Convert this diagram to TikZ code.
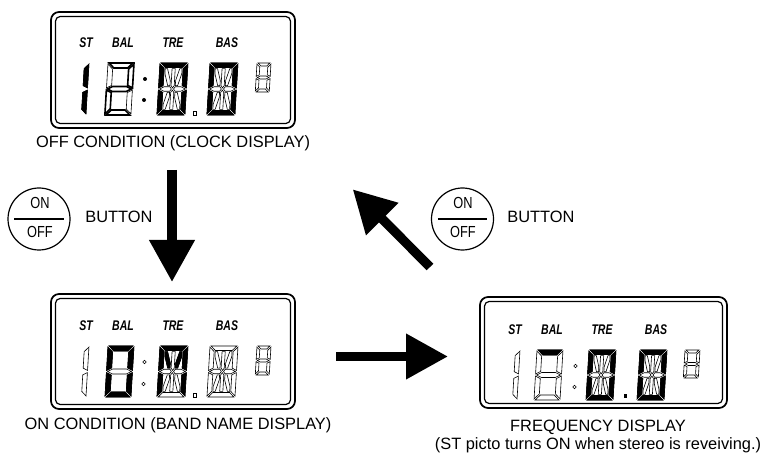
\documentclass[tikz,border=0pt]{standalone}
\usepackage{graphicx}
\usepackage{fontspec}
\setmainfont{Liberation Sans}
\usetikzlibrary{arrows.meta,calc}

\tikzset{
  unlit/.style={draw=black, fill=white, line width=0.45pt},
  lit/.style={draw=black, fill=black, line width=0.45pt},
  boldlit/.style={draw=black, fill=white, line width=1.2pt},
  frameout/.style={draw=black, line width=1.3pt, rounded corners=6pt},
  framein/.style={draw=black, line width=0.9pt, rounded corners=3.5pt},
  bigarrow/.style={line width=7pt, -{Triangle[length=31.5pt, width=32.5pt]}},
  caption/.style={font=\fontsize{12.3}{13.5}\selectfont, inner sep=0pt, align=center},
  lcdlabel/.style={font=\fontsize{10.5}{12}\selectfont\bfseries\itshape, inner sep=0pt},
  btn/.style={circle, draw=black, line width=0.9pt, minimum size=46.5pt, inner sep=0pt},
  btntext/.style={font=\fontsize{12}{13}\selectfont, inner sep=0pt},
}

% ---------- segment outlines (origin top-left, y downwards) ----------
\def\SGz{(0,0)}
\def\SGa{(\dD,0) -- ({\dW-\dD},0) -- ({\dW-\dT-\dD},\dT) -- ({\dT+\dD},\dT) -- cycle}
\def\SGb{(\dW,\dD) -- (\dW,{\dM-\dD}) -- ({\dW-\dT},{\dM-\dT/2-\dD}) -- ({\dW-\dT},{\dT+\dD}) -- cycle}
\def\SGc{(\dW,{\dM+\dD}) -- (\dW,{\dH-\dD}) -- ({\dW-\dT},{\dH-\dT-\dD}) -- ({\dW-\dT},{\dM+\dT/2+\dD}) -- cycle}
\def\SGd{(\dD,\dH) -- ({\dW-\dD},\dH) -- ({\dW-\dT-\dD},{\dH-\dT}) -- ({\dT+\dD},{\dH-\dT}) -- cycle}
\def\SGe{(0,{\dM+\dD}) -- (0,{\dH-\dD}) -- (\dT,{\dH-\dT-\dD}) -- (\dT,{\dM+\dT/2+\dD}) -- cycle}
\def\SGf{(0,\dD) -- (0,{\dM-\dD}) -- (\dT,{\dM-\dT/2-\dD}) -- (\dT,{\dT+\dD}) -- cycle}
\def\SGg{(\dD,\dM) -- ({\dT+\dD},{\dM-\dT/2}) -- ({\dW-\dT-\dD},{\dM-\dT/2}) -- ({\dW-\dD},\dM) -- ({\dW-\dT-\dD},{\dM+\dT/2}) -- ({\dT+\dD},{\dM+\dT/2}) -- cycle}
\def\SGp{(\dD,\dM) -- ({\dT+\dD},{\dM-\dT/2}) -- ({\dC-\dU/2-\dD},{\dM-\dT/2}) -- ({\dC-\dD},\dM) -- ({\dC-\dU/2-\dD},{\dM+\dT/2}) -- ({\dT+\dD},{\dM+\dT/2}) -- cycle}
\def\SGq{({\dW-\dD},\dM) -- ({\dW-\dT-\dD},{\dM-\dT/2}) -- ({\dC+\dU/2+\dD},{\dM-\dT/2}) -- ({\dC+\dD},\dM) -- ({\dC+\dU/2+\dD},{\dM+\dT/2}) -- ({\dW-\dT-\dD},{\dM+\dT/2}) -- cycle}
\def\SGi{({\dC-\dU/2},{\dT+\dD}) -- ({\dC+\dU/2},{\dT+\dD}) -- ({\dC+\dU/2},{\dM-\dT/2-\dD}) -- (\dC,{\dM-\dD}) -- ({\dC-\dU/2},{\dM-\dT/2-\dD}) -- cycle}
\def\SGl{({\dC-\dU/2},{\dH-\dT-\dD}) -- ({\dC+\dU/2},{\dH-\dT-\dD}) -- ({\dC+\dU/2},{\dM+\dT/2+\dD}) -- (\dC,{\dM+\dD}) -- ({\dC-\dU/2},{\dM+\dT/2+\dD}) -- cycle}
\def\SGh{(\dXa,\dYa) -- ({\dXa+\dOx},\dYa) -- (\dXb,{\dYb-\dOy}) -- (\dXb,\dYb) -- ({\dXb-\dOx},\dYb) -- (\dXa,{\dYa+\dOy}) -- cycle}
\def\SGj{(\dXc,\dYa) -- ({\dXc-\dOx},\dYa) -- (\dXd,{\dYb-\dOy}) -- (\dXd,\dYb) -- ({\dXd+\dOx},\dYb) -- (\dXc,{\dYa+\dOy}) -- cycle}
\def\SGk{(\dXa,\dYc) -- ({\dXa+\dOx},\dYc) -- (\dXb,{\dYd+\dOy}) -- (\dXb,\dYd) -- ({\dXb-\dOx},\dYd) -- (\dXa,{\dYc-\dOy}) -- cycle}
\def\SGn{(\dXc,\dYc) -- ({\dXc-\dOx},\dYc) -- (\dXd,{\dYd+\dOy}) -- (\dXd,\dYd) -- ({\dXd+\dOx},\dYd) -- (\dXc,{\dYc-\dOy}) -- cycle}

\newcommand\dsetup[4]{%
  \def\dW{#1}\def\dH{#2}\def\dT{#3}\def\dD{#4}%
  \pgfmathsetmacro\dM{#2/2}%
  \pgfmathsetmacro\dC{#1/2}%
  \pgfmathsetmacro\dU{#3*0.7}%
  \pgfmathsetmacro\dXa{#3+#4}%
  \pgfmathsetmacro\dXb{\dC-\dU/2-#4}%
  \pgfmathsetmacro\dXc{#1-#3-#4}%
  \pgfmathsetmacro\dXd{\dC+\dU/2+#4}%
  \pgfmathsetmacro\dYa{#3+#4}%
  \pgfmathsetmacro\dYb{\dM-#3/2-#4}%
  \pgfmathsetmacro\dYc{#2-#3-#4}%
  \pgfmathsetmacro\dYd{\dM+#3/2+#4}%
  \pgfmathsetmacro\dOx{0.4*(\dXb-\dXa)}%
  \pgfmathsetmacro\dOy{0.3*(\dYb-\dYa)}%
}
% #1 x, #2 y, #3 w, #4 h, #5 thickness, #6 all segments, #7 lit segments, #8 lit style
\newcommand\segdigit[8]{%
  \begin{scope}[shift={(#1,#2)}, xslant=0.06]
    \dsetup{#3}{#4}{#5}{1.1}%
    \edef\segall{#6}\edef\seglit{#7}%
    \foreach \s in \segall {\edef\cur{\noexpand\draw[unlit] \expandafter\noexpand\csname SG\s\endcsname;}\cur}%
    \foreach \s in \seglit {\edef\cur{\noexpand\draw[#8] \expandafter\noexpand\csname SG\s\endcsname;}\cur}%
  \end{scope}}
\def\allseven{a,b,c,d,e,f,g}
\def\allfourteen{a,b,c,d,e,f,p,q,i,l,h,j,k,n}

\newcommand\lcdframe[4]{%
  \draw[frameout] (#1,#2) rectangle ++(#3,#4);
  \draw[framein] ({#1+4.5},{#2+4.5}) rectangle ++({#3-9},{#4-9});}
\newcommand\lcdlabels[3]{%
  \node[lcdlabel] (#3st)  at ({#1+35},#2)  {\scalebox{0.75}[1]{ST}};
  \node[lcdlabel] (#3bal) at ({#1+72},#2)  {\scalebox{0.75}[1]{BAL}};
  \node[lcdlabel] (#3tre) at ({#1+122},#2) {\scalebox{0.75}[1]{TRE}};
  \node[lcdlabel] (#3bas) at ({#1+176},#2) {\scalebox{0.75}[1]{BAS}};}

\begin{document}
\begin{tikzpicture}[x=0.75pt,y=-0.75pt]
\useasboundingbox (0,0) rectangle (765,456);

% ===== Display 1: clock =====
\lcdframe{51}{12}{244}{116}
\lcdlabels{51}{43}{da}
\segdigit{84}{63}{5}{52}{4.5}{b,c}{b,c}{lit}
\segdigit{108}{63}{26}{52}{5}{\allseven}{a,b,g,e,d}{boldlit}
\fill[black] (145,79) circle[radius=2];
\fill[black] (144,100) circle[radius=2];
\segdigit{160}{63}{28}{52}{4.5}{\allfourteen}{a,b,c,d,e,f}{lit}
\draw[unlit] (193.5,111) rectangle (196.5,115);
\segdigit{210}{63}{28}{52}{4.5}{\allfourteen}{a,b,c,d,e,f}{lit}
\segdigit{257}{63}{14}{29}{3}{\allseven}{z}{lit}
\node[caption] (cap1) at (173,143) {OFF CONDITION (CLOCK DISPLAY)};

% ===== Display 2: band name =====
\lcdframe{51}{294}{244}{115}
\lcdlabels{51}{326}{db}
\segdigit{84}{346}{5}{51}{4.5}{b,c}{z}{lit}
\segdigit{108}{346}{26}{51}{5}{\allseven}{a,b,c,d,e,f}{lit}
\draw[unlit] (144.5,362) circle[radius=1.8];
\draw[unlit] (143.5,384) circle[radius=1.8];
\segdigit{160}{346}{28}{51}{4.5}{\allfourteen}{a,b,c,e,f,h,j}{lit}
\draw[unlit] (193.5,393) rectangle (196.5,397);
\segdigit{210}{346}{28}{51}{4.5}{\allfourteen}{z}{lit}
\segdigit{257}{346}{14}{29}{3}{\allseven}{z}{lit}
\node[caption] (cap2) at (178,425) {ON CONDITION (BAND NAME DISPLAY)};

% ===== Display 3: frequency =====
\lcdframe{480}{297}{247}{111}
\lcdlabels{480}{330}{dc}
\segdigit{514}{350}{6}{50}{4.5}{b,c}{z}{lit}
\segdigit{537}{350}{26}{50}{5}{\allseven}{a}{lit}
\draw[unlit] (575.5,366) circle[radius=1.8];
\draw[unlit] (574.5,387) circle[radius=1.8];
\segdigit{589}{350}{27}{50}{4.5}{\allfourteen}{a,b,c,d,e,f}{lit}
\fill[black] (623.5,394) rectangle (627,398.5);
\segdigit{640}{350}{27}{50}{4.5}{\allfourteen}{a,b,c,d,e,f}{lit}
\segdigit{685}{350}{15}{28}{3}{\allseven}{z}{lit}
\node[caption] (cap3) at (598,436) {FREQUENCY DISPLAY\\(ST picto turns ON when stereo is reveiving.)};

% ===== Buttons =====
\node[btn] (b1) at (39,219) {};
\node[btntext] (b1on) at (40,203) {\scalebox{0.8}[1]{ON}};
\node[btntext] (b1off) at (40,232) {\scalebox{0.8}[1]{OFF}};
\draw[line width=0.8pt] ([xshift=-18.5pt]b1.center) -- ([xshift=18.5pt]b1.center);
\node[caption] (b1t) at (119,217) {BUTTON};

\node[btn] (b2) at (462.5,219) {};
\node[btntext] (b2on) at (463,203) {\scalebox{0.8}[1]{ON}};
\node[btntext] (b2off) at (463,232) {\scalebox{0.8}[1]{OFF}};
\draw[line width=0.8pt] ([xshift=-18.5pt]b2.center) -- ([xshift=18.5pt]b2.center);
\node[caption] (b2t) at (541,217) {BUTTON};

% ===== Arrows =====
\coordinate (dn1) at (172,170);
\coordinate (dn2) at (172,282);
\draw[bigarrow] (dn1) -- (dn2);
\coordinate (rt1) at (336,356.5);
\coordinate (rt2) at (448,356.5);
\draw[bigarrow] (rt1) -- (rt2);
\coordinate (dg1) at (430,267);
\coordinate (dg2) at (352.7,189.3);
\draw[bigarrow] (dg1) -- (dg2);
\end{tikzpicture}
\end{document}
